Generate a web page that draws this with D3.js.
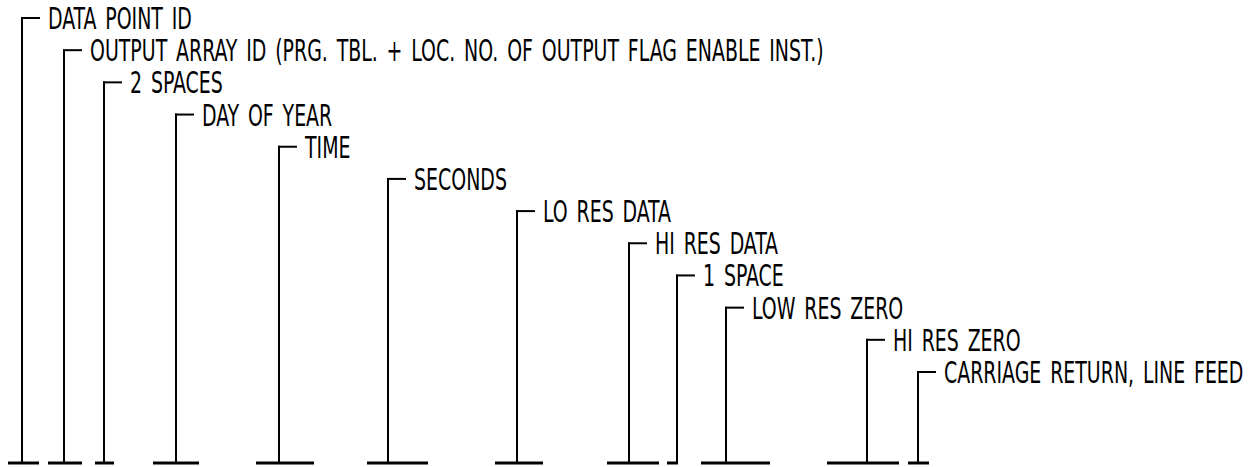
<!DOCTYPE html>
<html>
<head>
<meta charset="utf-8">
<script src="https://cdn.jsdelivr.net/npm/d3@7"></script>
<style>
  html, body { margin: 0; padding: 0; background: #fff; }
  svg { display: block; }
  text { font-family: "Liberation Sans Narrow", "DejaVu Sans Condensed", "Liberation Sans", sans-serif; }
</style>
</head>
<body>
<svg id="chart" width="1249" height="467"></svg>
<script>
// Field labels of the record format, top to bottom
const labels = [
  "DATA POINT ID",
  "OUTPUT ARRAY ID (PRG. TBL. + LOC. NO. OF OUTPUT FLAG ENABLE INST.)",
  "2 SPACES",
  "DAY OF YEAR",
  "TIME",
  "SECONDS",
  "LO RES DATA",
  "HI RES DATA",
  "1 SPACE",
  "LOW RES ZERO",
  "HI RES ZERO",
  "CARRIAGE RETURN, LINE FEED"
];
// Leader position (record column, in drawing units) for each field
const leaderCol = [22, 64, 104, 176, 279, 388, 517, 629, 677, 726, 867, 918];
// Field extent along the record (start, end) drawn as the base bracket
const fieldStart = [8, 48, 95, 153, 256, 367, 495, 607, 667, 701, 827, 908];
const fieldEnd   = [39, 82, 114, 199, 314, 428, 543, 659, 678, 770, 899, 929];
// Row (level) of each label
const rowIndex = [0, 1, 2, 3, 4, 5, 6, 7, 8, 9, 10, 11];

const W = 1249, H = 467;
const svg = d3.select("#chart");

const x = d3.scaleLinear().domain([0, W]).range([0, W]);
const y = d3.scaleLinear().domain([0, 11]).range([18, 372]);
const baseY = 463;

const data = labels.map((l, i) => ({
  label: l, col: leaderCol[i], s: fieldStart[i], e: fieldEnd[i], row: rowIndex[i]
}));

const g = svg.append("g");

// vertical leaders
g.selectAll("line.v").data(data).enter().append("line")
  .attr("x1", d => x(d.col)).attr("x2", d => x(d.col))
  .attr("y1", d => y(d.row) - 1).attr("y2", baseY)
  .attr("stroke", "#000").attr("stroke-width", 2);

// top ticks
g.selectAll("line.t").data(data).enter().append("line")
  .attr("x1", d => x(d.col) - 1).attr("x2", d => x(d.col) + 18)
  .attr("y1", d => y(d.row)).attr("y2", d => y(d.row))
  .attr("stroke", "#000").attr("stroke-width", 2);

// base brackets
g.selectAll("line.b").data(data).enter().append("line")
  .attr("x1", d => x(d.s)).attr("x2", d => x(d.e))
  .attr("y1", baseY).attr("y2", baseY)
  .attr("stroke", "#000").attr("stroke-width", 3);

// labels
const texts = g.selectAll("text.lab").data(data).enter().append("text")
  .attr("class", "lab")
  .attr("font-size", 30)
  .attr("word-spacing", 4)
  .attr("fill", "#000")
  .text(d => d.label);

// horizontal condensing so the longest label spans its drawn width
const longest = texts.filter((d, i) => i === 1).node();
const natural = longest.getComputedTextLength();
const sx = 734 / natural;
texts.attr("transform", d => `translate(${x(d.col) + 26},${y(d.row) + 11}) scale(${sx},1)`);
</script>
</body>
</html>
